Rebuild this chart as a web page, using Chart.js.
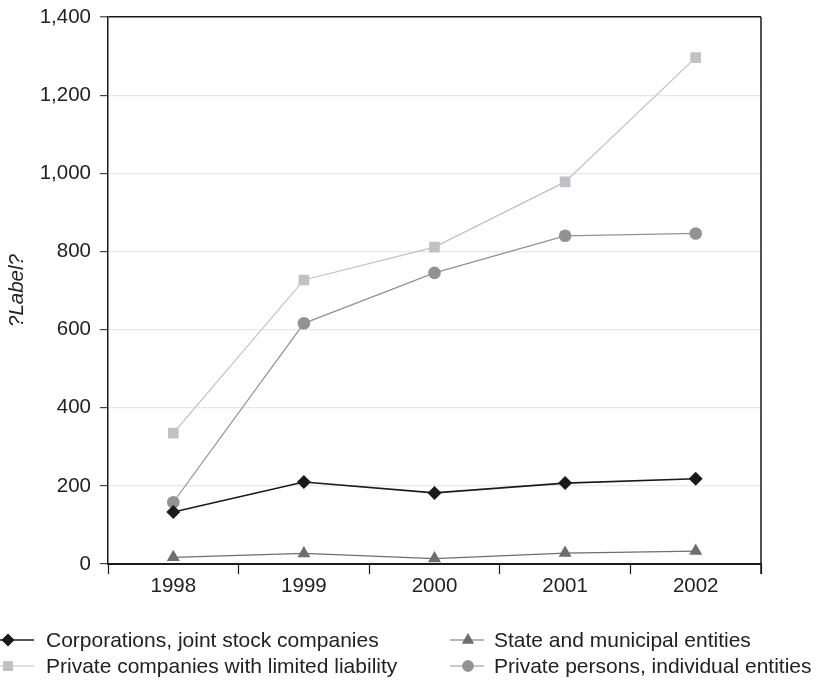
<!DOCTYPE html>
<html>
<head>
<meta charset="utf-8">
<script src="https://cdn.jsdelivr.net/npm/chart.js@4/dist/chart.umd.min.js"></script>
<style>
  html, body { margin: 0; padding: 0; background: #fff; }
  #wrap { width: 816px; height: 682px; position: relative; }
</style>
</head>
<body>
<div id="wrap"><canvas id="c" width="816" height="682"></canvas></div>
<script>
// Years on the category axis
const years = ['1998', '1999', '2000', '2001', '2002'];

// Series values by year
const corporations = [133, 210, 182, 207, 218];
const stateEntities = [17, 27, 14, 28, 33];
const privateCompanies = [335, 727, 811, 978, 1296];
const privatePersons = [158, 616, 745, 840, 846];

// Value axis ticks
const yTicks = [0, 200, 400, 600, 800, 1000, 1200, 1400];

const FONT = '"Liberation Sans", Arial, sans-serif';
const TEXT = '#222222';
const AXIS = '#1a1a1a';

const datasets = [
  { label: 'Corporations, joint stock companies', data: corporations,
    borderColor: '#1a1a1a', backgroundColor: '#1a1a1a', borderWidth: 1.6,
    pointStyle: 'rectRot', pointRadius: 7, order: 0 },
  { label: 'State and municipal entities', data: stateEntities,
    borderColor: '#6e6e6e', backgroundColor: '#6e6e6e', borderWidth: 1.2,
    pointStyle: 'triangle', pointRadius: 7.5, order: 1 },
  { label: 'Private companies with limited liability', data: privateCompanies,
    borderColor: '#c1c1c5', backgroundColor: '#c1c1c5', borderWidth: 1.2,
    pointStyle: 'rect', pointRadius: 7.5, order: 3 },
  { label: 'Private persons, individual entities', data: privatePersons,
    borderColor: '#929296', backgroundColor: '#929296', borderWidth: 1.2,
    pointStyle: 'circle', pointRadius: 6.3, order: 2 }
].map(d => Object.assign({
  pointBackgroundColor: d.backgroundColor,
  pointBorderColor: d.borderColor,
  pointBorderWidth: 0,
  pointHoverRadius: d.pointRadius,
  tension: 0,
  fill: false
}, d));

// Legend slots: [line start x, marker x, text x, row y]
const legendSlots = [
  [0, 8, 46, 640],
  [450, 468, 494, 640],
  [0, 8, 46, 666],
  [450, 468, 494, 666]
];

// Frame (right edge) and the two-column legend drawn under the plot
const frameAndLegend = {
  id: 'frameAndLegend',
  afterDraw(chart) {
    const { ctx, chartArea } = chart;
    ctx.save();
    ctx.strokeStyle = AXIS;
    ctx.lineWidth = 1.5;
    ctx.beginPath();
    ctx.moveTo(chartArea.right, chartArea.top);
    ctx.lineTo(chartArea.right, chartArea.bottom + 10);
    ctx.stroke();

    ctx.font = '21px ' + FONT;
    ctx.textBaseline = 'middle';
    ctx.textAlign = 'left';
    datasets.forEach((ds, i) => {
      const [lx, mx, tx, y] = legendSlots[i];
      ctx.strokeStyle = ds.borderColor;
      ctx.lineWidth = ds.borderWidth;
      ctx.beginPath();
      ctx.moveTo(lx, y);
      ctx.lineTo(lx + 34, y);
      ctx.stroke();
      ctx.fillStyle = ds.backgroundColor;
      Chart.helpers.drawPoint(ctx, {
        pointStyle: ds.pointStyle, radius: ds.pointRadius * 0.9,
        borderWidth: 0, rotation: 0
      }, mx, y);
      ctx.fill();
      ctx.fillStyle = TEXT;
      ctx.fillText(ds.label, tx, y + 1);
    });
    ctx.restore();
  }
};

new Chart(document.getElementById('c'), {
  type: 'line',
  data: { labels: years, datasets },
  options: {
    responsive: false,
    animation: false,
    devicePixelRatio: 1,
    layout: { padding: { top: 17, right: 55, bottom: 78, left: 0 } },
    plugins: {
      legend: { display: false },
      tooltip: { enabled: false }
    },
    scales: {
      x: {
        type: 'category',
        offset: true,
        grid: {
          offset: true,
          drawOnChartArea: false,
          drawTicks: true,
          tickLength: 10,
          tickColor: AXIS,
          tickWidth: 1.2
        },
        border: { display: true, color: AXIS, width: 2 },
        ticks: {
          padding: 0,
          color: TEXT,
          font: { family: FONT, size: 20.5 },
          maxRotation: 0
        },
        afterFit(scale) { scale.height = 40; }
      },
      y: {
        min: 0,
        max: 1400,
        afterBuildTicks(scale) { scale.ticks = yTicks.map(v => ({ value: v })); },
        grid: {
          color: ctx => (ctx.tick && ctx.tick.value === 1400) ? AXIS : '#e8e8e8',
          lineWidth: ctx => (ctx.tick && ctx.tick.value === 1400) ? 1.5 : 1.2,
          tickLength: 8,
          tickColor: '#444444',
          tickWidth: 1.2
        },
        border: { display: true, color: AXIS, width: 1.5 },
        ticks: {
          padding: 9,
          color: TEXT,
          font: { family: FONT, size: 20.5 },
          callback: v => Number(v).toLocaleString('en-US')
        },
        title: {
          display: true,
          text: '?Label?',
          color: TEXT,
          font: { family: FONT, size: 20.5, style: 'italic' },
          padding: { top: 5, bottom: 0 }
        },
        afterFit(scale) {
          scale.width = 108;
          scale.paddingTop = 0;
          scale.paddingBottom = 0;
        }
      }
    }
  },
  plugins: [frameAndLegend]
});
</script>
</body>
</html>
